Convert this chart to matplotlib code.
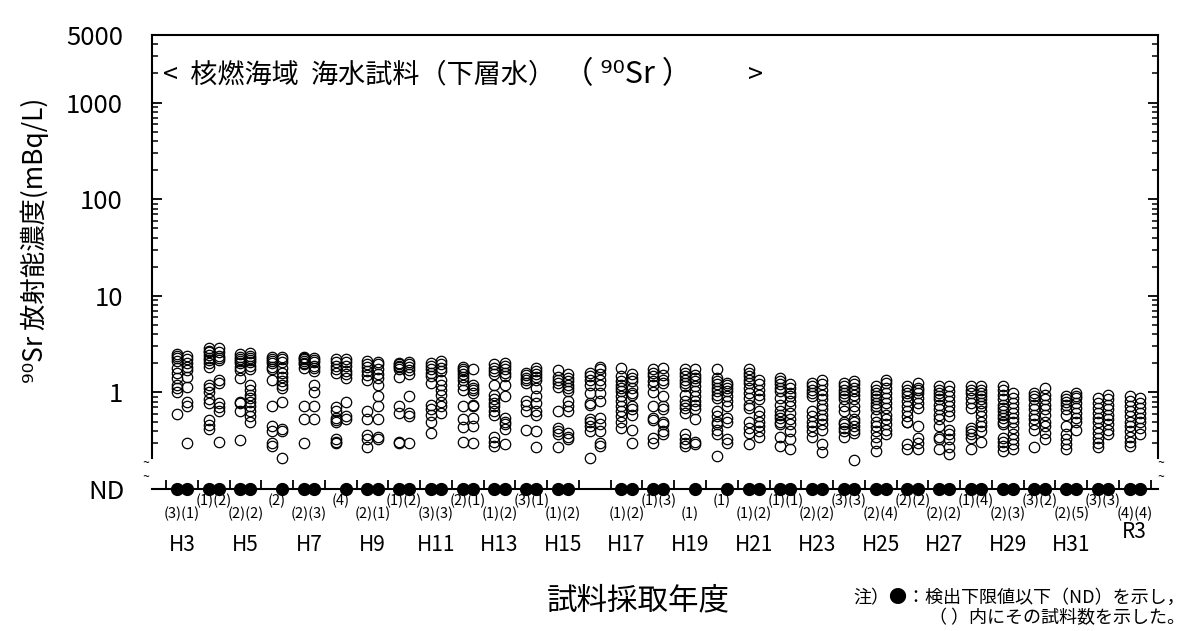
import matplotlib
matplotlib.use('Agg')
import matplotlib.pyplot as plt
import matplotlib.transforms as mtransforms
from matplotlib.ticker import LogLocator, NullFormatter, FixedLocator

plt.rcParams['font.family'] = ['Noto Sans CJK JP', 'DejaVu Sans']

# fiscal years H3 (1991) .. R3 (2021)
years = list(range(1991, 2022))
label_years = list(range(1991, 2022, 2))
label_names = ['H%d' % h for h in range(3, 32, 2)] + ['R3']

# 90Sr (mBq/L), first and second sampling of each year
sr_first = [
    [2.5, 2.4, 2.3, 2.1, 1.8, 1.6, 1.4, 1.2, 1.1, 1.0, 0.6],
    [2.9, 2.7, 2.6, 2.45, 2.3, 2.15, 2.0, 1.85, 1.2, 1.1, 1.0, 0.85, 0.77, 0.52, 0.46, 0.42],
    [2.5, 2.35, 2.2, 2.1, 2.0, 1.85, 1.7, 1.4, 0.8, 0.78, 0.65, 0.32],
    [2.35, 2.2, 2.1, 2.0, 1.85, 1.75, 1.35, 0.72, 0.45, 0.4, 0.3, 0.28],
    [2.35, 2.25, 2.2, 2.1, 2.0, 1.95, 1.8, 0.72, 0.53, 0.3],
    [2.2, 2.05, 1.9, 1.75, 1.6, 0.7, 0.64, 0.55, 0.52, 0.49, 0.33, 0.31, 0.3],
    [2.1, 1.95, 1.85, 1.65, 1.5, 1.35, 0.64, 0.53, 0.36, 0.33, 0.27],
    [2.0, 1.95, 1.9, 1.85, 1.75, 1.45, 0.72, 0.62, 0.31, 0.3],
    [2.0, 1.87, 1.75, 1.6, 1.47, 1.26, 0.75, 0.67, 0.59, 0.5, 0.38],
    [1.85, 1.75, 1.65, 1.55, 1.45, 1.35, 1.2, 1.07, 0.72, 0.53, 0.44, 0.31],
    [1.95, 1.8, 1.65, 1.55, 1.2, 0.95, 0.85, 0.78, 0.72, 0.64, 0.59, 0.35, 0.31, 0.28],
    [1.6, 1.5, 1.42, 1.35, 1.25, 0.81, 0.75, 0.64, 0.41],
    [1.7, 1.45, 1.35, 1.25, 1.15, 0.64, 0.43, 0.4, 0.37, 0.27],
    [1.6, 1.47, 1.36, 1.2, 0.99, 0.78, 0.75, 0.53, 0.49, 0.45, 0.4, 0.21],
    [1.8, 1.47, 1.3, 1.2, 1.12, 1.03, 0.92, 0.81, 0.72, 0.64, 0.57, 0.49, 0.43],
    [1.75, 1.6, 1.47, 1.3, 1.2, 1.0, 0.72, 0.55, 0.52, 0.34, 0.3],
    [1.73, 1.6, 1.47, 1.36, 1.26, 1.16, 0.95, 0.81, 0.75, 0.69, 0.62, 0.37, 0.33, 0.3, 0.28],
    [1.73, 1.42, 1.31, 1.21, 1.12, 1.03, 0.95, 0.88, 0.64, 0.57, 0.5, 0.47, 0.41, 0.37, 0.22],
    [1.73, 1.6, 1.47, 1.36, 1.26, 1.12, 0.99, 0.88, 0.75, 0.69, 0.49, 0.43, 0.38, 0.29],
    [1.42, 1.31, 1.21, 1.12, 1.03, 0.88, 0.75, 0.64, 0.59, 0.55, 0.5, 0.47, 0.35, 0.28],
    [1.26, 1.16, 1.07, 0.99, 0.92, 0.64, 0.57, 0.5, 0.45, 0.4, 0.35],
    [1.26, 1.16, 1.07, 0.99, 0.92, 0.85, 0.72, 0.64, 0.5, 0.47, 0.43, 0.4, 0.35],
    [1.16, 1.07, 0.99, 0.92, 0.85, 0.78, 0.72, 0.67, 0.57, 0.5, 0.45, 0.4, 0.35, 0.3, 0.25],
    [1.16, 1.07, 0.99, 0.92, 0.81, 0.72, 0.64, 0.57, 0.5, 0.49, 0.29, 0.26],
    [1.16, 1.07, 0.99, 0.92, 0.85, 0.75, 0.67, 0.59, 0.53, 0.45, 0.35, 0.33, 0.26],
    [1.16, 1.07, 0.99, 0.88, 0.78, 0.69, 0.43, 0.4, 0.37, 0.34, 0.26],
    [1.16, 1.07, 0.95, 0.85, 0.75, 0.69, 0.64, 0.59, 0.55, 0.5, 0.47, 0.34, 0.31, 0.28, 0.25],
    [0.99, 0.92, 0.85, 0.75, 0.67, 0.59, 0.53, 0.47, 0.41, 0.27],
    [0.92, 0.85, 0.8, 0.75, 0.67, 0.59, 0.45, 0.37, 0.33, 0.29, 0.26],
    [0.88, 0.78, 0.69, 0.62, 0.55, 0.49, 0.43, 0.38, 0.34, 0.3, 0.27],
    [0.92, 0.81, 0.72, 0.64, 0.57, 0.5, 0.45, 0.4, 0.35, 0.31, 0.28],
]
sr_second = [
    [2.4, 2.2, 2.0, 1.85, 1.7, 1.45, 1.15, 0.8, 0.72, 0.3],
    [2.9, 2.6, 2.4, 2.25, 2.15, 1.35, 1.25, 0.78, 0.7, 0.65, 0.31],
    [2.55, 2.4, 2.3, 2.15, 2.05, 1.9, 1.75, 1.2, 1.07, 0.95, 0.88, 0.8, 0.72, 0.64, 0.57, 0.5],
    [2.35, 2.2, 2.05, 1.8, 1.6, 1.45, 1.3, 1.2, 1.1, 0.8, 0.42, 0.4, 0.21],
    [2.25, 2.15, 2.05, 1.9, 1.8, 1.65, 1.2, 1.0, 0.72, 0.53],
    [2.2, 2.05, 1.9, 1.65, 1.55, 1.4, 0.8, 0.57, 0.53],
    [2.05, 1.95, 1.75, 1.55, 1.4, 1.2, 0.92, 0.72, 0.53, 0.35, 0.33],
    [2.05, 1.95, 1.85, 1.7, 1.55, 0.92, 0.62, 0.57, 0.3],
    [2.1, 1.95, 1.8, 1.65, 1.35, 1.2, 1.07, 0.95, 0.8, 0.72, 0.62],
    [1.73, 1.2, 1.12, 1.05, 0.98, 0.75, 0.72, 0.55, 0.45, 0.3],
    [2.0, 1.87, 1.75, 1.6, 1.47, 1.2, 0.92, 0.55, 0.5, 0.47, 0.42, 0.29],
    [1.8, 1.65, 1.55, 1.45, 1.35, 1.12, 0.92, 0.78, 0.64, 0.59, 0.4, 0.27],
    [1.55, 1.42, 1.3, 1.2, 1.12, 1.03, 0.81, 0.72, 0.64, 0.38, 0.35, 0.33],
    [1.85, 1.73, 1.55, 1.35, 1.2, 0.99, 0.81, 0.55, 0.47, 0.4, 0.3, 0.28],
    [1.55, 1.42, 1.3, 1.12, 0.99, 0.95, 0.72, 0.67, 0.59, 0.41, 0.3],
    [1.8, 1.53, 1.36, 1.26, 0.92, 0.72, 0.67, 0.5, 0.47, 0.4, 0.37],
    [1.73, 1.53, 1.42, 1.31, 1.16, 1.03, 0.92, 0.81, 0.75, 0.67, 0.53, 0.31, 0.29],
    [1.26, 1.2, 1.12, 1.03, 0.92, 0.81, 0.72, 0.55, 0.5, 0.33, 0.3],
    [1.36, 1.21, 1.07, 0.95, 0.85, 0.64, 0.57, 0.5, 0.45, 0.4, 0.35],
    [1.21, 1.12, 0.99, 0.92, 0.81, 0.72, 0.62, 0.53, 0.47, 0.4, 0.33, 0.26],
    [1.36, 1.21, 1.07, 0.95, 0.85, 0.75, 0.67, 0.59, 0.53, 0.47, 0.41, 0.29, 0.24],
    [1.31, 1.21, 1.12, 1.03, 0.95, 0.85, 0.72, 0.64, 0.53, 0.49, 0.45, 0.41, 0.38, 0.2],
    [1.36, 1.26, 1.12, 0.99, 0.88, 0.78, 0.69, 0.59, 0.53, 0.47, 0.41, 0.37],
    [1.26, 1.12, 1.05, 0.99, 0.88, 0.78, 0.69, 0.45, 0.34, 0.3, 0.26],
    [1.16, 1.03, 0.92, 0.81, 0.72, 0.64, 0.57, 0.41, 0.37, 0.33, 0.27, 0.23],
    [1.16, 1.07, 0.99, 0.92, 0.85, 0.78, 0.72, 0.64, 0.57, 0.5, 0.45, 0.4, 0.31],
    [0.99, 0.88, 0.78, 0.69, 0.62, 0.55, 0.49, 0.43, 0.37, 0.33, 0.29, 0.26],
    [1.12, 0.95, 0.85, 0.75, 0.67, 0.59, 0.5, 0.45, 0.38, 0.33],
    [0.99, 0.93, 0.88, 0.78, 0.69, 0.62, 0.55, 0.49, 0.41],
    [0.95, 0.85, 0.75, 0.67, 0.59, 0.53, 0.47, 0.41, 0.37],
    [0.88, 0.78, 0.69, 0.62, 0.55, 0.49, 0.43, 0.37],
]

# number of ND samples (0 = none)
nd_first = [3, 1, 2, 0, 2, 0, 2, 1, 3, 2, 1, 3, 1, 0, 1, 1, 0, 0, 1, 1,
            2, 3, 2, 2, 2, 1, 2, 3, 2, 3, 4]
nd_second = [1, 2, 2, 2, 3, 4, 1, 2, 3, 1, 2, 1, 2, 0, 2, 3, 1, 1, 2, 1,
             2, 3, 4, 2, 2, 4, 3, 2, 5, 3, 4]

W, H = 1187, 631
fig = plt.figure(figsize=(W / 100, H / 100), dpi=100)


def fx(px):
    return px / W


def fy(py):
    return 1 - py / H


x0, x1 = 152, 1158
ax = fig.add_axes([fx(x0), fy(458), fx(x1 - x0), (458 - 35) / H])
ax_nd = fig.add_axes([fx(x0), fy(501), fx(x1 - x0), 24 / H])

xlim = (1990.06, 2021.73)
dx = 0.16

for yr, a, b in zip(years, sr_first, sr_second):
    ax.plot([yr - dx] * len(a), a, 'o', mfc='none', mec='black', ms=7.5, mew=0.9,
            clip_on=False)
    ax.plot([yr + dx] * len(b), b, 'o', mfc='none', mec='black', ms=7.5, mew=0.9,
            clip_on=False)

ax.set_yscale('log')
ax.set_ylim(0.21, 5000)
ax.set_xlim(*xlim)
ax.yaxis.set_major_locator(FixedLocator([1, 10, 100, 1000, 5000]))
ax.set_yticklabels(['1', '10', '100', '1000', '5000'])
ax.yaxis.set_minor_locator(LogLocator(base=10, subs=range(2, 10)))
ax.yaxis.set_minor_formatter(NullFormatter())
ax.tick_params(axis='y', which='major', direction='in', length=7.5, width=1.3,
               right=True, labelsize=18.5, pad=21)
ax.tick_params(axis='y', which='minor', direction='in', length=4, width=1.1, right=True)
ax.set_xticks([])
ax.spines['bottom'].set_visible(False)
for s in ['top', 'left', 'right']:
    ax.spines[s].set_linewidth(1.5)

# ND row
ax_nd.set_xlim(*xlim)
ax_nd.set_ylim(0, 1)
for s in ['top', 'left', 'right']:
    ax_nd.spines[s].set_visible(False)
ax_nd.spines['bottom'].set_position(('axes', 0.5))
ax_nd.spines['bottom'].set_linewidth(1.5)
ax_nd.set_xticks([y - 0.5 for y in years] + [years[-1] + 0.5])
ax_nd.tick_params(axis='x', direction='in', length=6.5, width=1.3, labelbottom=False)
ax_nd.set_yticks([0.5])
ax_nd.set_yticklabels(['ND'])
ax_nd.tick_params(axis='y', length=0, labelsize=18.5, pad=20)
ax_nd.patch.set_visible(False)

trans = mtransforms.blended_transform_factory(ax_nd.transData, fig.transFigure)
for i, (yr, n1, n2) in enumerate(zip(years, nd_first, nd_second)):
    if n1:
        ax_nd.plot(yr - dx, 0.5, 'o', color='black', ms=8.5, clip_on=False, zorder=3)
    if n2:
        ax_nd.plot(yr + dx, 0.5, 'o', color='black', ms=8.5, clip_on=False, zorder=3)
    txt = ''.join('(%d)' % n for n in (n1, n2) if n)
    if txt:
        ty = fy(514) if i % 2 == 0 else fy(501)
        ax_nd.text(yr, ty, txt, transform=trans, ha='center', va='center', fontsize=10.5)

for yr, name in zip(label_years, label_names):
    ty = fy(532) if name == 'R3' else fy(545)
    ax_nd.text(yr, ty, name, transform=trans, ha='center', va='center', fontsize=15)

# axis break marks
for px, py in [(146, 464), (146, 478), (1161, 464), (1161, 478)]:
    fig.text(fx(px), fy(py), '~', ha='center', va='center', fontsize=9)

# title
fig.text(fx(163), fy(75), '<  核燃海域  海水試料（下層水）', ha='left', va='center',
         fontsize=19.5)
fig.text(fx(563), fy(75), '（ ⁹⁰Sr ）', ha='left', va='center', fontsize=22)
fig.text(fx(748), fy(75), '>', ha='left', va='center', fontsize=19.5)

fig.text(fx(35), fy(240), '⁹⁰Sr 放射能濃度(mBq/L)', rotation=90, ha='center',
         va='center', fontsize=19)
fig.text(fx(638), fy(601), '試料採取年度', ha='center', va='center', fontsize=22)
fig.text(fx(1185), fy(598), '注）●：検出下限値以下（ND）を示し，', ha='right',
         va='center', fontsize=13)
fig.text(fx(1185), fy(618), '（ ）内にその試料数を示した。', ha='right', va='center',
         fontsize=13)

fig.savefig('out.png', dpi=100)
